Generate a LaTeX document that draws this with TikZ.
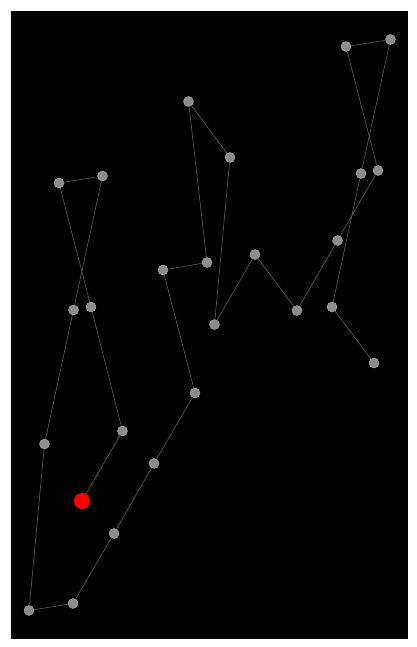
\documentclass[tikz,border=0pt]{standalone}
\usepackage{tikz}
\definecolor{dotgray}{RGB}{140,140,140}
\definecolor{dotrim}{RGB}{175,175,175}
\definecolor{linegray}{RGB}{95,95,95}
\begin{document}
\begin{tikzpicture}[x=0.025cm, y=-0.025cm,
        main/.style = {draw=dotrim, fill=dotgray, circle, line width=0.3pt, inner sep=0pt, minimum size=0.25cm},
        start/.style = {fill=red, circle, inner sep=0pt, minimum size=0.4cm},
        edge/.style = {draw=linegray, line width=0.4pt}]
        \useasboundingbox (0,0) rectangle (416,647);
        \fill[black] (11,11) rectangle (408,639);
        \node[start] (0) at (82,501) {};
        \node[main] (1) at (122.5,431) {};
        \node[main] (2) at (91,307) {};
        \node[main] (3) at (59,183) {};
        \node[main] (4) at (102.5,176) {};
        \node[main] (5) at (73.5,310) {};
        \node[main] (6) at (44.5,444) {};
        \node[main] (7) at (29,610.5) {};
        \node[main] (8) at (73,603.5) {};
        \node[main] (9) at (114,533.5) {};
        \node[main] (10) at (154,463.5) {};
        \node[main] (11) at (195,393) {};
        \node[main] (12) at (163,270) {};
        \node[main] (13) at (207,262.5) {};
        \node[main] (14) at (188.5,101.5) {};
        \node[main] (15) at (230,157.5) {};
        \node[main] (16) at (214.5,324.5) {};
        \node[main] (17) at (255,254.5) {};
        \node[main] (18) at (297,310.5) {};
        \node[main] (19) at (337.5,240.5) {};
        \node[main] (20) at (378,170.5) {};
        \node[main] (21) at (346,46.5) {};
        \node[main] (22) at (390.5,39.5) {};
        \node[main] (23) at (361,173.5) {};
        \node[main] (24) at (332,307) {};
        \node[main] (25) at (374,363) {};
        \draw[edge] (0) -- (1) -- (2) -- (3) -- (4) -- (5) -- (6) -- (7) -- (8) -- (9) -- (10) -- (11) -- (12);
        \draw[edge] (12) -- (13) -- (14) -- (15) -- (16) -- (17) -- (18) -- (19) -- (20) -- (21) -- (22) -- (23) -- (24) -- (25);
    \end{tikzpicture}
\end{document}
